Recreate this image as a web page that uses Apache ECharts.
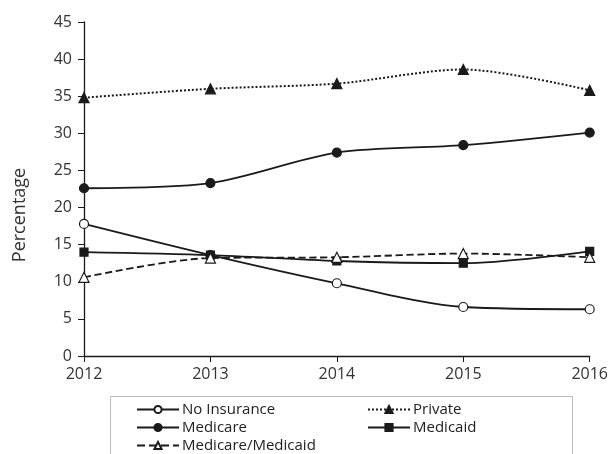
<!DOCTYPE html>
<html>
<head>
<meta charset="utf-8">
<script src="https://cdn.jsdelivr.net/npm/echarts@6/dist/echarts.min.js"></script>
<style>
  html, body { margin: 0; padding: 0; background: #fff; }
  #chart { width: 611px; height: 454px; }
</style>
</head>
<body>
<div id="chart"></div>
<script>
const years = ['2012', '2013', '2014', '2015', '2016']
const noInsurance = [17.8, 13.6, 9.8, 6.6, 6.3]
const privateIns = [34.8, 36.0, 36.7, 38.6, 35.8]
const medicare = [22.6, 23.3, 27.4, 28.4, 30.1]
const medicaid = [14.0, 13.6, 12.8, 12.5, 14.1]
const medicareMedicaid = [10.6, 13.2, 13.3, 13.8, 13.3]

const font = 'Open Sans'
const ink = '#1a1a1a'

function line(name, data, symbol, size, lineType, fill) {
  return {
    name,
    type: 'line',
    data,
    smooth: 0.3,
    symbol,
    symbolSize: size,
    showAllSymbol: true,
    lineStyle: { color: ink, width: lineType === 'dotted' ? 2 : 1.8, type: lineType },
    itemStyle: { color: fill, borderColor: ink, borderWidth: 1.2 },
    emphasis: { disabled: true },
  }
}

// one legend per entry so the two-column layout stays put
function legendItem(name, left, top) {
  return {
    left, top, itemWidth: 42, itemHeight: 9, itemGap: 0,
    textStyle: { fontFamily: font, fontSize: 15, color: '#222', padding: [0, 0, 0, -2] },
    data: [name],
  }
}

const chart = echarts.init(document.getElementById('chart'))
chart.setOption({
  backgroundColor: '#fff',
  animation: false,
  grid: { left: 84, right: 20, top: 22, bottom: 98 },
  legend: [
    legendItem('No Insurance', 131, 397),
    legendItem('Medicare', 131, 415),
    legendItem('Medicare/Medicaid', 131, 433),
    legendItem('Private', 362, 397),
    legendItem('Medicaid', 362, 415),
  ],
  graphic: [
    {
      type: 'rect',
      shape: { x: 110.5, y: 396.5, width: 462, height: 70 },
      style: { fill: 'none', stroke: '#bbb', lineWidth: 1 },
      z: -1,
    },
    {
      type: 'text',
      x: 20,
      y: 215,
      rotation: Math.PI / 2,
      style: {
        text: 'Percentage',
        font: '18px "Open Sans"',
        fill: '#333',
        align: 'center',
        verticalAlign: 'middle',
      },
    },
  ],
  xAxis: {
    type: 'category',
    data: years,
    boundaryGap: false,
    axisLine: { lineStyle: { color: ink, width: 1.3 } },
    axisTick: { alignWithLabel: true, length: 6, lineStyle: { color: ink } },
    axisLabel: { fontFamily: font, fontSize: 16, color: '#333', margin: 10 },
  },
  yAxis: {
    type: 'value',
    min: 0,
    max: 45,
    interval: 5,
    axisLine: { show: true, lineStyle: { color: ink, width: 1.3 } },
    axisTick: { show: true, length: 6, lineStyle: { color: ink } },
    splitLine: { show: false },
    axisLabel: { fontFamily: font, fontSize: 16, color: '#333', margin: 12 },
  },
  series: [
    line('No Insurance', noInsurance, 'circle', 9, 'solid', '#fff'),
    line('Private', privateIns, 'triangle', 10, 'dotted', ink),
    line('Medicare', medicare, 'circle', 9, 'solid', ink),
    line('Medicaid', medicaid, 'rect', 8, 'solid', ink),
    line('Medicare/Medicaid', medicareMedicaid, 'triangle', 10, 'dashed', '#fff'),
  ],
})
</script>
</body>
</html>
